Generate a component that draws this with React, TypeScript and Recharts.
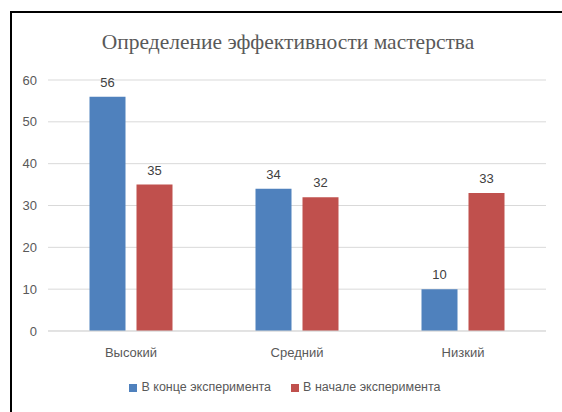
import { BarChart, Bar, XAxis, YAxis, CartesianGrid, Legend, LabelList } from 'recharts'

const categories = ['Высокий', 'Средний', 'Низкий']
const endValues = [56, 34, 10]
const startValues = [35, 32, 33]
const yTicks = [0, 10, 20, 30, 40, 50, 60]

const data = categories.map((name, i) => ({
  name,
  end: endValues[i],
  start: startValues[i],
}))

const axisFont = "'Liberation Sans Narrow', 'Liberation Sans', Arial, sans-serif"

export default function App() {
  return (
    <div style={{ position: 'fixed', left: 0, top: 0, width: 562, height: 412, background: '#fff' }}>
      <div
        style={{
          position: 'absolute',
          left: 10,
          top: 11,
          width: 552,
          height: 401,
          borderTop: '2px solid #000',
          borderLeft: '2px solid #000',
        }}
      />
      <div
        style={{
          position: 'absolute',
          left: 0,
          width: 576,
          top: 30,
          textAlign: 'center',
          fontFamily: "'Liberation Serif', 'Times New Roman', serif",
          fontSize: 21.5,
          color: '#595959',
        }}
      >
        Определение эффективности мастерства
      </div>
      <div style={{ position: 'absolute', left: 0, top: 0 }}>
        <BarChart
          width={562}
          height={412}
          data={data}
          margin={{ top: 80, right: 16, left: 0, bottom: 18 }}
          barCategoryGap="25%"
          barGap={11}
        >
          <CartesianGrid vertical={false} stroke="#d9d9d9" />
          <XAxis
            dataKey="name"
            height={49}
            tickLine={false}
            axisLine={{ stroke: '#d9d9d9' }}
            tickMargin={11}
            tick={{ fill: '#595959', fontSize: 13, fontFamily: axisFont }}
          />
          <YAxis
            width={48}
            domain={[0, 60]}
            ticks={yTicks}
            axisLine={false}
            tickLine={false}
            tickMargin={5}
            tick={{ fill: '#595959', fontSize: 13, fontFamily: axisFont }}
          />
          <Legend
            verticalAlign="bottom"
            iconType="square"
            iconSize={8}
            wrapperStyle={{ fontFamily: axisFont, fontSize: 12.5, color: '#595959', paddingLeft: 22 }}
            formatter={(v) => <span style={{ color: '#595959', marginRight: 10 }}>{v}</span>}
          />
          <Bar dataKey="end" name="В конце эксперимента" fill="#4f81bd" isAnimationActive={false}>
            <LabelList dataKey="end" position="top" offset={10} fill="#404040" fontSize={13} fontFamily={axisFont} />
          </Bar>
          <Bar dataKey="start" name="В начале эксперимента" fill="#c0504d" isAnimationActive={false}>
            <LabelList dataKey="start" position="top" offset={10} fill="#404040" fontSize={13} fontFamily={axisFont} />
          </Bar>
        </BarChart>
      </div>
    </div>
  )
}
